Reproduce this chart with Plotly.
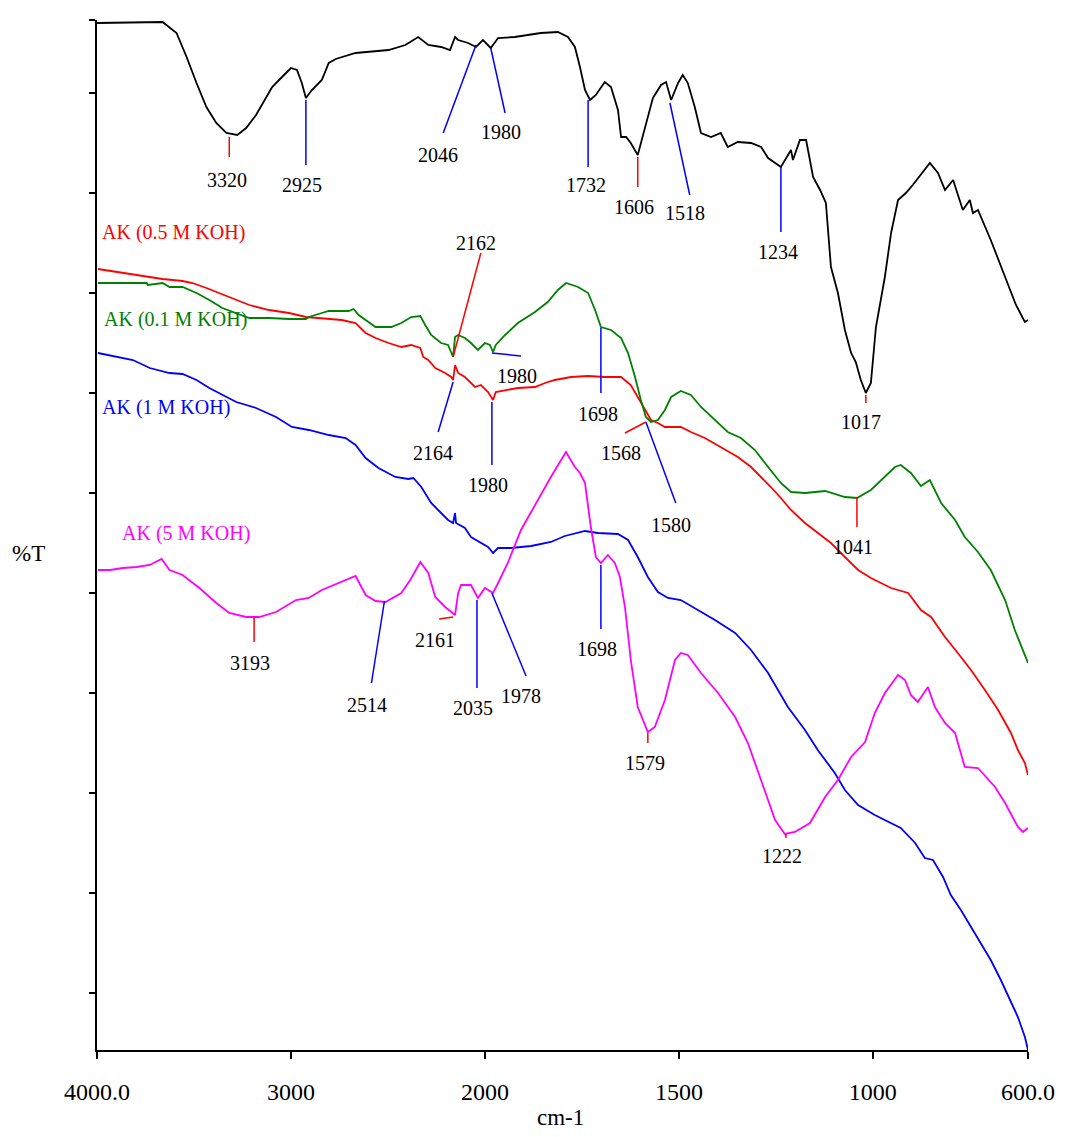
import plotly.graph_objects as go

# ---------------- data (wavenumber cm-1, %T arbitrary offset units) ----------------
bk_wn = [4000,3785,3713,3662,3590,3538,3487,3436,3385,3333,3277,3231,3180,3097,3046,3000,2969,2944,2923,2892,
         2841,2805,2769,2667,2497,2410,2344,2292,2226,2180,2154,2138,2087,2046,2010,1985,1966,1923,1856,1812,
         1786,1768,1755,1742,1729,1714,1691,1675,1657,1649,1636,1624,1606,1585,1567,1546,1533,1520,1502,1490,
         1477,1459,1443,1417,1392,1374,1348,1314,1288,1270,1237,1211,1206,1188,1172,1154,1136,1121,1108,1090,
         1072,1056,1044,1031,1018,1005,992,969,953,935,915,897,876,853,832,814,793,768,750,742,
         729,696,659,631,608,600]
bk_t = [102.8,102.9,102.9,102.9,101.8,99.4,96.8,94.4,92.8,91.8,91.6,92.3,93.6,96.4,97.4,98.3,98.1,96.8,95.3,96.1,
        97.1,98.8,99.2,99.8,100.1,100.6,101.4,100.6,100.4,100.1,101.4,101.1,100.8,100.4,101.1,100.3,101.3,101.4,101.8,101.9,
        101.4,100.4,98.4,96.1,95.1,95.6,96.9,96.4,94.1,91.4,91.4,90.8,89.6,92.8,95.3,96.6,96.9,95.1,96.8,97.6,
        96.8,94.4,91.8,91.4,91.8,90.4,90.9,90.8,90.4,89.3,88.4,90.1,89.1,91.1,91.1,87.4,86.1,84.8,78.4,75.8,
        72.1,69.8,68.9,67.1,65.8,66.8,72.4,77.4,81.8,85.1,85.8,86.6,87.6,88.8,87.8,86.1,87.1,84.1,85.1,83.8,
        84.1,81.1,77.4,74.6,72.9,73.1]

rd_wn = [3995,3933,3867,3795,3738,3662,3559,3508,3436,3369,3303,3215,3113,3010,2923,2841,2738,2667,2615,2564,
         2497,2431,2380,2333,2318,2292,2256,2205,2174,2164,2154,2138,2103,2051,2021,1992,1979,1972,1948,1915,
         1871,1845,1820,1778,1734,1691,1649,1624,1606,1588,1572,1554,1536,1495,1469,1433,1392,1348,1314,1288,
         1263,1237,1211,1175,1142,1108,1072,1038,1005,953,909,876,850,814,781,747,711,677,644,626,
         608,600]
rd_t = [78.2,78.0,77.8,77.6,77.4,77.2,77.0,76.8,76.3,75.8,75.3,74.6,74.1,73.8,73.4,73.3,73.1,72.8,71.8,71.3,
        70.8,70.4,70.6,70.3,69.4,69.1,68.3,67.8,67.4,67.1,68.6,67.8,67.4,66.4,66.6,65.9,65.1,65.9,66.1,66.3,
        66.4,66.8,67.1,67.4,67.5,67.4,67.4,66.6,65.4,64.1,63.1,62.8,62.4,62.4,61.9,61.3,60.4,59.4,58.4,57.4,
        56.4,55.3,54.1,52.8,51.8,50.8,49.4,48.1,47.3,46.3,45.8,44.1,43.4,41.4,39.8,38.1,36.1,34.1,31.8,30.1,
        28.8,27.6]

gr_wn = [3995,3744,3738,3662,3626,3559,3487,3421,3354,3282,3215,3113,3010,2923,2908,2841,2805,2703,2677,2651,
         2615,2564,2482,2431,2380,2333,2308,2277,2226,2190,2164,2154,2138,2103,2072,2036,2000,1987,1979,1972,
         1948,1915,1871,1838,1812,1791,1760,1734,1716,1701,1675,1649,1631,1613,1598,1585,1572,1554,1536,1520,
         1495,1469,1443,1407,1374,1340,1304,1270,1237,1211,1175,1149,1123,1072,1041,1005,969,943,928,902,
         876,853,824,788,763,729,696,659,634,600]
gr_t = [76.8,76.8,76.6,76.8,76.4,76.4,75.8,75.1,74.3,73.8,73.3,73.3,73.2,73.2,73.4,73.8,74.0,74.0,74.2,73.6,
        73.1,72.4,72.4,72.8,73.4,73.5,72.6,71.6,70.8,70.6,69.4,71.4,71.6,71.3,70.8,70.1,70.8,70.6,69.9,70.6,
        71.6,72.8,73.9,74.9,76.1,76.8,76.4,75.8,74.1,72.4,72.1,71.3,69.8,67.4,65.1,63.4,62.9,63.1,64.1,65.4,
        66.0,65.6,64.4,63.1,61.9,61.3,60.1,58.4,56.8,55.9,55.8,55.9,56.0,55.4,55.3,56.1,57.4,58.4,58.6,57.8,
        56.5,57.1,54.8,53.1,51.4,49.9,48.1,45.1,42.1,38.8]

bl_wn = [3995,3897,3815,3728,3626,3559,3487,3421,3354,3282,3180,3077,2995,2908,2805,2718,2667,2615,2549,2462,
         2395,2369,2328,2277,2226,2190,2164,2154,2149,2103,2072,2021,1992,1979,1966,1933,1881,1830,1794,1742,
         1709,1657,1631,1606,1580,1554,1528,1495,1459,1407,1355,1314,1270,1219,1175,1142,1098,1072,1038,995,
         928,891,866,845,819,799,773,747,721,696,670,644,626,608,600]
bl_t = [69.8,69.4,69.1,68.3,67.8,67.7,67.1,66.3,65.6,64.9,64.3,63.4,62.4,62.1,61.6,61.3,60.6,59.3,58.3,57.4,
        57.2,57.3,56.4,54.8,53.8,53.1,52.8,53.8,52.8,52.3,51.4,50.8,50.4,49.8,50.3,50.3,50.5,50.9,51.5,52.0,
        51.8,51.7,51.1,49.4,47.4,45.9,45.3,45.1,44.3,43.1,41.8,40.1,37.8,34.4,32.1,30.1,27.8,26.1,24.6,23.6,
        22.3,20.8,19.3,19.1,17.4,15.6,14.1,12.4,10.8,9.1,7.1,4.9,3.4,1.4,0.1]

mg_wn = [3995,3933,3867,3795,3728,3667,3626,3559,3472,3385,3318,3231,3164,3077,2974,2908,2841,2738,2667,2615,
         2564,2513,2431,2385,2333,2292,2256,2205,2164,2154,2138,2123,2072,2036,2000,1979,1966,1941,1907,1863,
         1830,1791,1768,1755,1742,1727,1714,1701,1683,1665,1652,1639,1624,1606,1580,1562,1536,1510,1495,1477,
         1443,1399,1355,1322,1288,1252,1227,1201,1162,1123,1090,1056,1020,995,969,935,917,902,884,858,
         840,814,788,763,729,685,659,626,613,600]
mg_t = [48.1,48.1,48.3,48.4,48.6,49.2,48.1,47.6,46.3,44.8,43.8,43.4,43.4,43.9,45.1,45.3,46.1,46.9,47.5,45.6,
        45.0,44.9,45.8,47.1,48.9,47.8,45.4,44.4,43.8,43.6,45.8,46.6,46.6,45.3,46.3,45.8,46.8,48.8,52.1,55.1,
        57.4,59.9,58.4,57.8,56.8,52.4,49.4,48.8,49.6,48.8,47.4,44.4,39.1,34.4,31.9,32.4,35.1,39.1,39.8,39.6,
        37.8,35.8,33.4,30.8,27.1,23.1,21.7,21.9,22.8,25.4,27.1,29.4,30.9,33.8,35.8,37.6,37.1,35.6,34.9,36.4,
        34.4,32.8,31.8,28.4,28.3,26.4,24.8,22.4,21.9,22.3]

series_names = ["mandalina kabugu", "AK (0.5 M KOH)", "AK (0.1 M KOH)", "AK (1 M KOH)", "AK (5 M KOH)"]
series_colors = ["#000000", "#ff0000", "#008000", "#0000ff", "#ff00ff"]
series_wn = [bk_wn, rd_wn, gr_wn, bl_wn, mg_wn]
series_t = [bk_t, rd_t, gr_t, bl_t, mg_t]
# label anchor (wavenumber, %T) and alignment
label_wn = [2647, 3985, 3975, 3985, 3880]
label_t = [103.7, 81.9, 73.2, 64.4, 51.8]
label_anchor = ["center", "left", "left", "left", "left"]

# peak annotations: label, leader colour, tip (on curve), end of leader, text centre
pk_label = ["3320","2925","2046","1980","1732","1606","1518","1234","1017",
            "2162","1980","2164","1980","1698","1568","1580","1041",
            "3193","2514","2161","2035","1978","1698","1579","1222"]
pk_color = ["r","b","b","b","b","r","b","b","r",
            "r","b","b","b","b","r","b","r",
            "r","b","r","b","b","b","r","r"]
pk_tip_wn = [3318,2923,2046,1985,1734,1606,1523,1237,1018,
             2164,1982,2164,1982,1701,1585,1585,1041,
             3190,2518,2164,2041,1982,1701,1580,1224]
pk_tip_t = [91.4,95.1,100.6,100.3,95.1,89.4,94.8,88.4,65.6,
            69.4,69.8,66.9,64.9,72.3,62.9,62.9,55.3,
            43.4,45.0,43.4,45.1,45.8,48.6,31.8,21.7]
pk_end_wn = [3318,2923,2215,1948,1734,1606,1472,1237,1018,
             2021,1907,2241,1982,1701,1639,1508,1041,
             3190,2585,2236,2041,1894,1701,1580,1224]
pk_end_t = [89.4,88.6,91.8,93.8,88.4,86.4,85.6,81.9,64.8,
            79.8,69.5,61.9,58.6,65.8,61.8,54.8,52.4,
            40.9,36.8,43.2,36.3,37.5,42.2,30.8,21.3]
pk_txt_wn = [3328,2944,2241,1959,1740,1616,1484,1245,1031,
             2046,1918,2267,1992,1709,1649,1520,1051,
             3210,2610,2256,2062,1907,1711,1588,1234]
pk_txt_t = [87.1,86.6,89.6,91.9,86.6,84.4,83.8,79.9,62.9,
            80.8,67.5,59.8,56.6,63.7,59.8,52.6,50.4,
            38.8,34.6,41.1,34.3,35.5,40.2,28.8,19.5]

tick_wn = [4000, 3000, 2000, 1500, 1000, 600]
tick_text = ["4000.0", "3000", "2000", "1500", "1000", "600.0"]
ytick_vals = [5.8, 15.8, 25.8, 35.8, 45.8, 55.8, 65.8, 75.8, 85.8, 95.8, 103.1]


# FTIR axis: 4000-2000 compressed 2x relative to 2000-600
def xmap(w):
    return (4000 - w) / 2.0 if w >= 2000 else 1000 + (2000 - w)


FONT = "Liberation Serif, Times New Roman, serif"
COLORS = {"r": "#ff0000", "b": "#0000ff"}

fig = go.Figure()
for name, c, wn, t in zip(series_names, series_colors, series_wn, series_t):
    fig.add_trace(go.Scatter(x=[xmap(w) for w in wn], y=t, mode="lines", name=name,
                             line=dict(color=c, width=1.8), hoverinfo="skip", showlegend=False))

for name, c, lw, lt, anc in zip(series_names, series_colors, label_wn, label_t, label_anchor):
    fig.add_annotation(x=xmap(lw), y=lt, text=name, showarrow=False, xanchor=anc, yanchor="middle",
                       font=dict(family=FONT, size=20, color=c))

for lab, col, tw, tt, ew, et, xw, xt in zip(pk_label, pk_color, pk_tip_wn, pk_tip_t, pk_end_wn, pk_end_t,
                                            pk_txt_wn, pk_txt_t):
    fig.add_shape(type="line", xref="x", yref="y", x0=xmap(tw), y0=tt, x1=xmap(ew), y1=et,
                  line=dict(color=COLORS[col], width=1.5))
    fig.add_annotation(x=xmap(xw), y=xt, text=lab, showarrow=False, xanchor="center", yanchor="middle",
                       font=dict(family=FONT, size=20, color="black"))

fig.add_annotation(xref="paper", yref="paper", x=0.498, y=-0.066, text="cm-1", showarrow=False,
                   xanchor="center", yanchor="middle", font=dict(family=FONT, size=23, color="black"))
fig.add_annotation(xref="paper", yref="paper", x=-0.074, y=0.4825, text="%T", showarrow=False,
                   xanchor="center", yanchor="middle", font=dict(family=FONT, size=23, color="black"))

fig.update_layout(
    width=1067, height=1137, autosize=False,
    margin=dict(l=97, r=37, t=20, b=87, pad=0),
    paper_bgcolor="white", plot_bgcolor="white",
    font=dict(family=FONT, color="black"),
    xaxis=dict(range=[0, 2400], tickmode="array", tickvals=[xmap(w) for w in tick_wn], ticktext=tick_text,
               showline=True, linecolor="black", linewidth=2, ticks="outside", ticklen=7, tickwidth=1.5,
               tickcolor="black", tickfont=dict(family=FONT, size=24, color="black"), ticklabelstandoff=12,
               showgrid=False, zeroline=False),
    yaxis=dict(range=[0.1, 103.1], tickmode="array", tickvals=ytick_vals, showticklabels=False,
               showline=True, linecolor="black", linewidth=1.5, ticks="outside", ticklen=6, tickwidth=1.5,
               tickcolor="black", showgrid=False, zeroline=False),
)

fig.write_html("out.html")
